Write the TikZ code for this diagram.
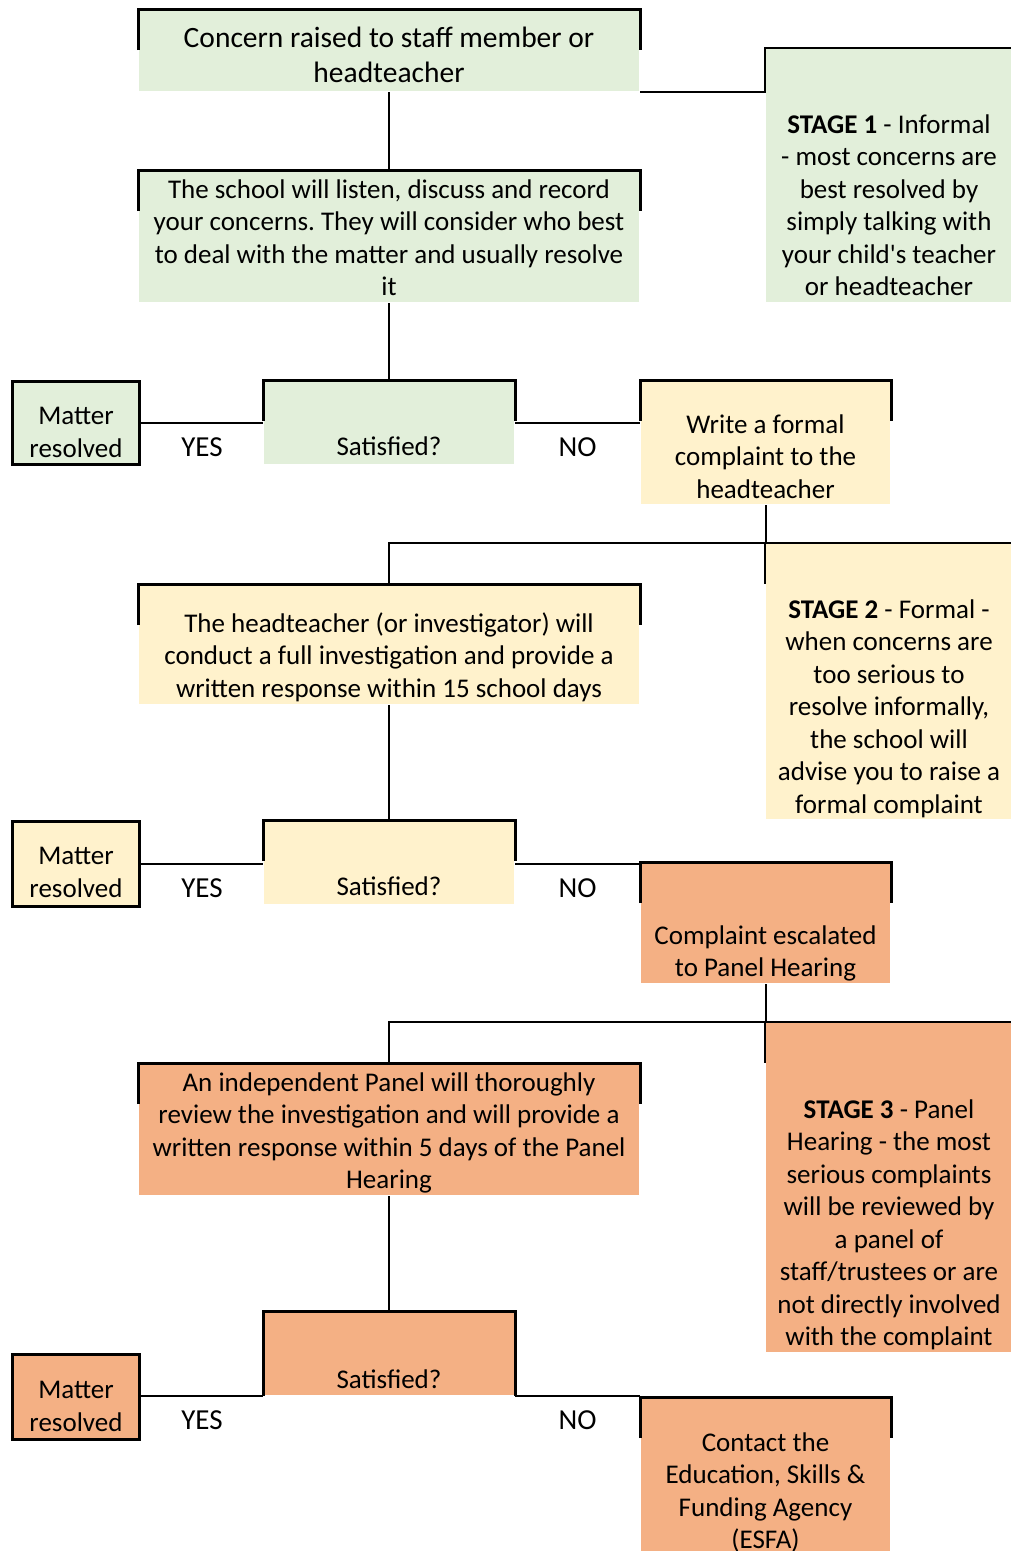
\documentclass[tikz,border=0pt]{standalone}
\usepackage{fontspec}
\setmainfont{Carlito}
\frenchspacing
\tikzset{
every picture/.style={
line width=2pt
}}
\definecolor{stageone}{HTML}{E2EFDA}
\definecolor{stagetwo}{HTML}{FFF2CC}
\definecolor{stagethree}{HTML}{F4B084}
\tikzset{
  box/.style={inner sep=0pt, align=center, anchor=north west,
    font=\fontsize{27}{32.5}\selectfont,
    execute at begin node={\spaceskip=0.226em\relax}},
  matter/.style={box, draw, line width=3pt, text width=127pt},
  rim/.style={line width=3pt},
  lbl/.style={midway, yshift=-24pt, inner sep=0pt,
    font=\fontsize{29}{32.5}\selectfont}
}
\begin{document}
\begin{tikzpicture}[x=1pt, y=-1pt]
      \useasboundingbox (0,0) rectangle (1011,1551);
      % stage 1
      \node[box, fill=stageone, text width=500pt, text height=37pt, text depth=44pt,
        font=\fontsize{29.5}{35}\selectfont]
        (concern) at (138,9) {Concern raised to staff member or\\headteacher};
      \node[box, fill=stageone, text width=246pt, text height=84pt, text depth=169pt]
        (stage1) at (765,48) {\textbf{STAGE 1} - Informal\\- most concerns are\\best resolved by\\simply talking with\\your child\textquotesingle s teacher\\or headteacher};
      \node[box, fill=stageone, text width=500pt, text height=27pt, text depth=104pt]
        (listen) at (138,170) {The school will listen, discuss and record\\your concerns. They will consider who best\\to deal with the matter and usually resolve\\it};
      \node[box, fill=stageone, text width=250pt, text height=74pt, text depth=9pt]
        (sat1) at (263,380) {Satisfied?};
      \node[matter, fill=stageone, text height=43pt, text depth=40pt]
        (res1) at (11,380) {Matter\\resolved};
      % stage 2
      \node[box, fill=stagetwo, text width=249pt, text height=52pt, text depth=71pt]
        (formal) at (640,380) {Write a formal\\complaint to the\\headteacher};
      \node[box, fill=stagetwo, text width=246pt, text height=74pt, text depth=201pt]
        (stage2) at (765,543) {\textbf{STAGE 2} - Formal -\\when concerns are\\too serious to\\resolve informally,\\the school will\\advise you to raise a\\formal complaint};
      \node[box, fill=stagetwo, text width=500pt, text height=47pt, text depth=72pt]
        (invest) at (138,584) {The headteacher (or investigator) will\\conduct a full investigation and provide a\\written response within 15 school days};
      \node[box, fill=stagetwo, text width=250pt, text height=74pt, text depth=9pt]
        (sat2) at (263,820) {Satisfied?};
      \node[matter, fill=stagetwo, text height=43pt, text depth=42pt]
        (res2) at (11,820) {Matter\\resolved};
      % stage 3
      \node[box, fill=stagethree, text width=249pt, text height=81pt, text depth=39pt]
        (escal) at (640,862) {Complaint escalated\\to Panel Hearing};
      \node[box, fill=stagethree, text width=246pt, text height=95pt, text depth=234pt]
        (stage3) at (765,1022) {\textbf{STAGE 3} - Panel\\Hearing - the most\\serious complaints\\will be reviewed by\\a panel of\\staff/trustees or are\\not directly involved\\with the complaint};
      \node[box, fill=stagethree, text width=500pt, text height=27pt, text depth=104pt]
        (panel) at (138,1063) {An independent Panel will thoroughly\\review the investigation and will provide a\\written response within 5 days of the Panel\\Hearing};
      \node[box, fill=stagethree, text width=250pt, text height=76pt, text depth=7pt]
        (sat3) at (263,1311) {Satisfied?};
      \node[matter, fill=stagethree, text height=44pt, text depth=41pt]
        (res3) at (11,1353) {Matter\\resolved};
      \node[box, fill=stagethree, text width=249pt, text height=53pt, text depth=101pt]
        (esfa) at (640,1397) {Contact the\\Education, Skills \&\\Funding Agency\\(ESFA)};
      % top rims
      \foreach \n in {concern, listen, sat1, formal, invest, sat2, escal, panel, esfa}
        \draw [rim] ([yshift=-41pt]\n.north west) |- (\n.north east)
          -- ([yshift=-41pt]\n.north east);
      \draw [rim] (sat3.south west) |- (sat3.north east) -- (sat3.south east);
      % connectors
      \draw (concern) -- (listen);
      \draw (concern.south east) -| (stage1.north west) -- (stage1.north east);
      \draw (listen) -- (sat1);
      \draw (res1.east) -- (res1.east -| sat1.west) node [lbl] (yes1) {YES};
      \draw (sat1.east |- res1.east) -- (res1.east -| formal.west) node [lbl] (no1) {NO};
      \draw (formal.south) -- (formal.south |- stage2.north);
      \draw (invest.north) |- (stage2.north east);
      \draw (stage2.north west) -- (stage2.north west |- invest.north);
      \draw (invest) -- (sat2);
      \draw (res2.east) -- (res2.east -| sat2.west) node [lbl] (yes2) {YES};
      \draw (sat2.east |- res2.east) -- (res2.east -| escal.west) node [lbl] (no2) {NO};
      \draw (escal.south) -- (escal.south |- stage3.north);
      \draw (panel.north) |- (stage3.north east);
      \draw (stage3.north west) -- (stage3.north west |- panel.north);
      \draw (panel) -- (sat3);
      \draw (res3.east |- sat3.south) -- (sat3.south west) node [lbl] (yes3) {YES};
      \draw (sat3.south east) -- (sat3.south -| esfa.west) node [lbl] (no3) {NO};
\end{tikzpicture}
\end{document}
